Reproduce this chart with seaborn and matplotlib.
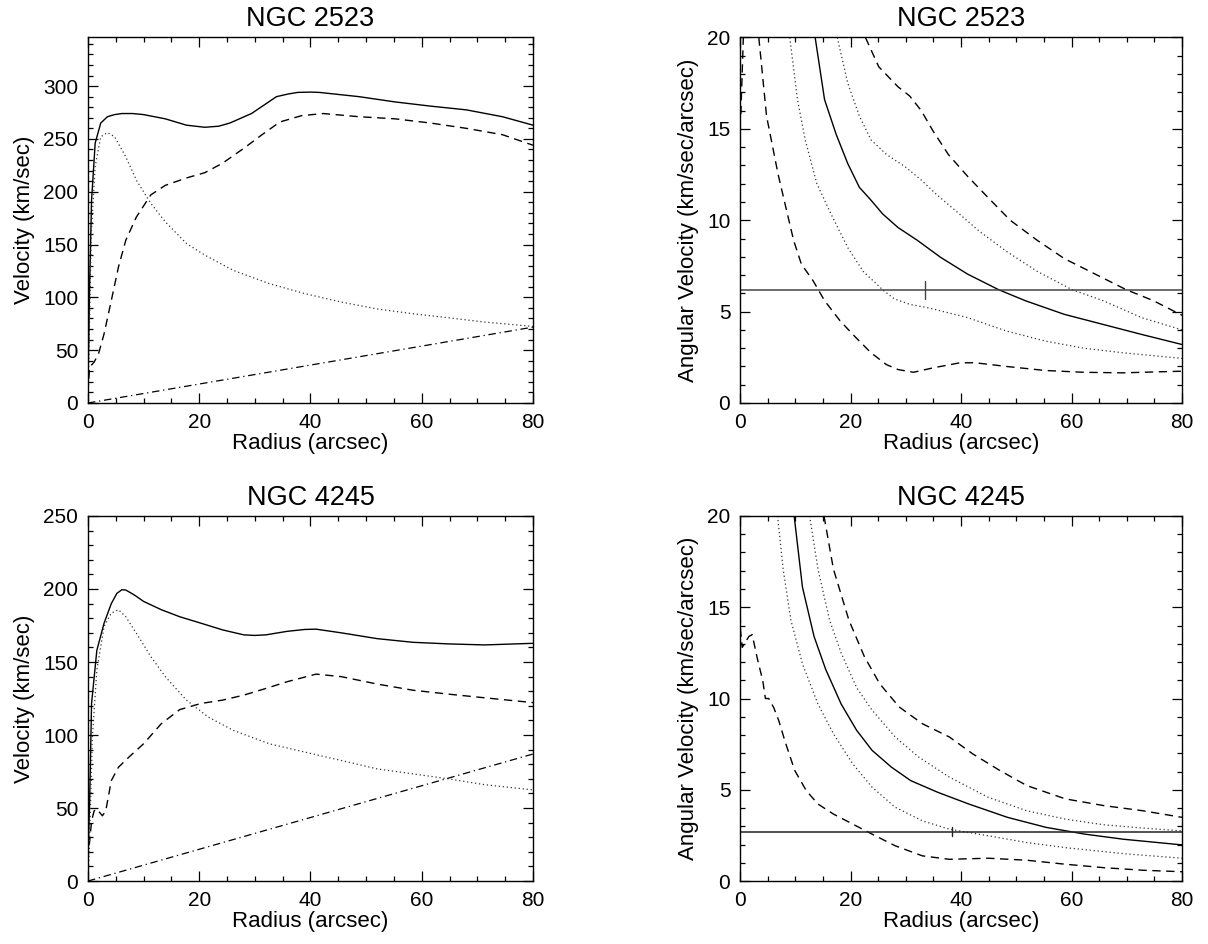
import numpy as np
import pandas as pd
import matplotlib
matplotlib.use('Agg')
import matplotlib.pyplot as plt
from matplotlib.ticker import MultipleLocator
import seaborn as sns

# NGC 2523 rotation curve components (left top)
r_2523_tot = [0, 0.3, 0.65, 1.3, 2.3, 3.5, 4.8, 6.1, 8, 10, 13.9, 17.7, 21, 23.5, 25.5, 29.4, 33.9, 36, 37.7, 40, 41.6, 48.7, 55.2, 61.6, 68, 74.5, 80]
v_2523_tot = [15, 110, 192, 246, 265, 271, 273, 274, 274, 273, 269, 263, 261, 262, 265, 274, 290, 292.5, 294, 294.3, 294, 290, 285, 281, 277.5, 271, 263]
r_2523_disk = [0, 0.3, 1.1, 1.9, 2.9, 4.2, 5.5, 6.8, 8.7, 11.3, 13.9, 17.7, 21, 24.2, 28, 31.3, 34.5, 38.4, 42.3, 48.7, 55.2, 61.6, 68, 74.5, 80]
v_2523_disk = [10, 34, 38.6, 46.5, 65.5, 97, 129, 154, 176, 197, 206, 213, 218, 227, 241, 254, 266, 272, 274, 271, 269, 265, 260, 254, 244]
r_2523_bulge = [0, 0.6, 1.3, 2.3, 3.5, 4.8, 6.8, 8.7, 11.3, 13.9, 17.7, 21, 26.1, 32.6, 39, 45.5, 52, 58.4, 64.8, 71.3, 80]
v_2523_bulge = [0, 160, 224, 252, 256, 252, 233, 211, 189, 171.5, 151, 140, 125.6, 113, 103.5, 95.6, 89, 84.5, 80.7, 76.6, 72.5]
r_2523_halo = [0, 80]
v_2523_halo = [0, 71.8]

# NGC 4245 rotation curve components (left bottom)
r_4245_tot = [0, 0.3, 0.65, 1.6, 2.9, 4.2, 5.2, 6.1, 6.8, 7.4, 8.5, 10, 13.2, 16.5, 20.3, 24.2, 28, 30, 32, 35.8, 39, 41, 45.5, 52, 58.4, 64.8, 71.3, 80]
v_4245_tot = [15, 53, 121.6, 158, 176.6, 190, 197, 199.5, 199.3, 198, 195.5, 191.5, 185.8, 181, 176.6, 172, 168.6, 168.2, 168.6, 171, 172.3, 172.5, 170, 166, 163.5, 162.4, 161.7, 162.8]
r_4245_disk = [0, 0.2, 0.65, 1.1, 1.6, 2.6, 3.2, 4.2, 5.5, 7.4, 10, 13.2, 16.5, 20.3, 24.2, 28, 32, 35.8, 41, 45.5, 52, 58.4, 64.8, 71.3, 80]
v_4245_disk = [15, 23, 41, 48, 49.3, 44.7, 48, 68.8, 78, 85, 94, 107.8, 117.4, 121.6, 123.9, 127.3, 131.9, 136.5, 141.7, 140, 134.9, 130.7, 128, 125.5, 122.2]
r_4245_bulge = [0, 0.3, 0.8, 1.6, 2.9, 4.2, 5.5, 6.8, 8.7, 11.3, 13.9, 17.7, 21.6, 26.1, 32.6, 39, 45.5, 52, 58.4, 64.8, 71.3, 80]
v_4245_bulge = [0, 30, 98.6, 144.5, 174.3, 183.5, 185.8, 181, 169.7, 153.7, 140, 123.9, 112.4, 103.2, 94, 88.3, 82.6, 76.8, 73.4, 70, 66, 62.4]
r_4245_halo = [0, 80]
v_4245_halo = [0, 87]

# NGC 2523 angular velocity curves (right top)
r_2523_om = [13.6, 15.3, 17.4, 19.5, 21.6, 23.7, 25.8, 28.6, 32.1, 36.3, 41.2, 46.8, 51.7, 58.7, 65.7, 72.7, 80]
om_2523 = [20, 16.6, 14.7, 13.1, 11.8, 11.1, 10.35, 9.6, 8.9, 7.97, 7.05, 6.2, 5.59, 4.85, 4.3, 3.75, 3.2]
r_2523_lo2_core = [0.15, 0.6]
om_2523_lo2_core = [15.8, 20]
r_2523_lo2 = [3.4, 4.8, 6.9, 8.3, 9.7, 11.1, 13.2, 15.3, 18.1, 20.9, 23.7, 26.5, 28.6, 31.4, 34.9, 39.8, 42.6, 48.2, 55.2, 62.2, 69.2, 80]
om_2523_lo2 = [20, 15.7, 12.5, 10.7, 8.9, 7.6, 6.7, 5.6, 4.5, 3.6, 2.75, 2.1, 1.83, 1.68, 1.92, 2.2, 2.2, 2.0, 1.78, 1.68, 1.65, 1.74]
r_2523_lo4 = [9, 10.4, 11.8, 13.9, 16.7, 19.5, 22.3, 25.8, 27.9, 30.7, 34.2, 41.2, 48.2, 55.2, 62.2, 69.2, 80]
om_2523_lo4 = [20, 16.6, 14.4, 12.0, 10.2, 8.5, 7.2, 6.2, 5.7, 5.4, 5.2, 4.67, 3.94, 3.39, 3.0, 2.75, 2.44]
r_2523_hi4 = [17.6, 19.5, 21.6, 23.7, 26.5, 30, 32.8, 35.6, 39.1, 43.3, 48.2, 53.8, 60.1, 65.7, 72.7, 80]
om_2523_hi4 = [20, 17.5, 15.7, 14.4, 13.6, 12.9, 12.2, 11.4, 10.5, 9.4, 8.3, 7.2, 6.2, 5.6, 4.67, 4.0]
r_2523_hi2 = [22.7, 25.1, 28.6, 30.7, 32.8, 34.9, 37.7, 41.2, 44.7, 48.9, 53.8, 58.7, 64.3, 69.9, 74.8, 80]
om_2523_hi2 = [20, 18.4, 17.3, 16.8, 16.0, 14.9, 13.6, 12.4, 11.3, 10.0, 8.9, 7.9, 7.05, 6.2, 5.6, 4.8]
omp_2523 = 6.2
rmark_2523 = 33.5

# NGC 4245 angular velocity curves (right bottom)
r_4245_om = [9.8, 11.3, 13.4, 15.5, 18.3, 21.1, 23.9, 27.4, 30.9, 35.8, 41.4, 48.4, 55.4, 62.4, 69.4, 80]
om_4245 = [20, 16.1, 13.4, 11.6, 9.7, 8.26, 7.16, 6.24, 5.5, 4.86, 4.22, 3.49, 2.94, 2.57, 2.29, 1.98]
r_4245_lo2 = [0.05, 0.1, 0.4, 1.6, 2.2, 3.2, 4.1, 4.6, 5.2, 6.1, 7.0, 8.2, 9.9, 12, 14.1, 16.9, 20.4, 23.9, 28.1, 33, 37.9, 44.9, 51.9, 58.9, 65.9, 73, 80]
om_4245_lo2 = [14.6, 13.7, 12.8, 13.4, 13.5, 12.1, 11.0, 10.0, 10.0, 9.5, 8.8, 7.6, 6.06, 4.95, 4.22, 3.67, 3.12, 2.57, 1.93, 1.38, 1.19, 1.25, 1.14, 0.92, 0.73, 0.59, 0.51]
r_4245_lo4 = [6.8, 7.8, 9.2, 11.3, 14.1, 16.9, 20.4, 23.9, 28.1, 33, 37.9, 44.9, 51.9, 58.9, 69.4, 80]
om_4245_lo4 = [20, 17.1, 14.3, 11.9, 9.7, 8.07, 6.42, 5.14, 4.04, 3.3, 2.84, 2.48, 2.11, 1.83, 1.5, 1.25]
r_4245_hi4 = [12.6, 14.1, 16.2, 18.3, 21.1, 23.9, 28.1, 32.3, 37.9, 44.9, 51.9, 58.9, 65.9, 73, 80]
om_4245_hi4 = [20, 17.1, 14.3, 12.5, 10.6, 9.36, 7.89, 6.8, 5.69, 4.59, 3.85, 3.39, 3.08, 2.9, 2.75]
r_4245_hi2 = [15.2, 16.9, 19.7, 22.5, 25.3, 28.8, 33, 37.9, 42.1, 47, 51.9, 58.9, 65.9, 72.9, 80]
om_4245_hi2 = [20, 17.1, 14.3, 12.3, 10.8, 9.54, 8.62, 7.89, 6.97, 6.06, 5.23, 4.5, 4.13, 3.85, 3.49]
omp_4245 = 2.7
rmark_4245 = 38.3

SOLID = '-'
DASHED = (0, (6, 4))
DOTTED = (0, (1, 2.2))
DASHDOT = (0, (6, 3, 1, 3))

sns.set_style('ticks')
plt.rcParams['font.family'] = ['Liberation Sans', 'DejaVu Sans']
plt.rcParams['axes.linewidth'] = 1.0
plt.rcParams['text.color'] = 'black'
plt.rcParams['axes.labelcolor'] = 'black'
plt.rcParams['xtick.color'] = 'black'
plt.rcParams['ytick.color'] = 'black'
plt.rcParams['axes.edgecolor'] = 'black'


def draw(ax, r, v, ls, lw=1.0, color='black'):
    sns.lineplot(x=r, y=v, ax=ax, color=color, linewidth=lw, linestyle=ls,
                 sort=False, estimator=None, legend=False)


def style_axes(ax, title, ylabel, ymax, ymajor, yminor):
    ax.set_xlim(0, 80)
    ax.set_ylim(0, ymax)
    ax.xaxis.set_major_locator(MultipleLocator(20))
    ax.xaxis.set_minor_locator(MultipleLocator(5))
    ax.yaxis.set_major_locator(MultipleLocator(ymajor))
    ax.yaxis.set_minor_locator(MultipleLocator(yminor))
    ax.tick_params(which='both', direction='in', top=True, right=True,
                   labelsize=15, width=0.9, color='black', labelcolor='black')
    ax.tick_params(which='major', length=7, pad=7)
    ax.tick_params(which='minor', length=3.5)
    for sp in ax.spines.values():
        sp.set_visible(True)
        sp.set_color('black')
    ax.set_title(title, fontsize=19.5, pad=8, color='black')
    ax.set_xlabel('Radius (arcsec)', fontsize=16, labelpad=1)
    ax.set_ylabel(ylabel, fontsize=16, labelpad=6)


fig = plt.figure(figsize=(12.08, 9.44), dpi=100)
ax_tl = fig.add_axes([0.0728, 0.5731, 0.3684, 0.3872])
ax_tr = fig.add_axes([0.6126, 0.5731, 0.3659, 0.3872])
ax_bl = fig.add_axes([0.0728, 0.0667, 0.3684, 0.3867])
ax_br = fig.add_axes([0.6126, 0.0667, 0.3659, 0.3867])

# rotation curves
draw(ax_tl, r_2523_tot, v_2523_tot, SOLID)
draw(ax_tl, r_2523_disk, v_2523_disk, DASHED)
draw(ax_tl, r_2523_bulge, v_2523_bulge, DOTTED, lw=0.9, color='#333333')
draw(ax_tl, r_2523_halo, v_2523_halo, DASHDOT, lw=0.9)
style_axes(ax_tl, 'NGC 2523', 'Velocity (km/sec)', 346, 50, 10)

draw(ax_bl, r_4245_tot, v_4245_tot, SOLID)
draw(ax_bl, r_4245_disk, v_4245_disk, DASHED)
draw(ax_bl, r_4245_bulge, v_4245_bulge, DOTTED, lw=0.9, color='#333333')
draw(ax_bl, r_4245_halo, v_4245_halo, DASHDOT, lw=0.9)
style_axes(ax_bl, 'NGC 4245', 'Velocity (km/sec)', 250, 50, 10)

# angular velocity curves
draw(ax_tr, r_2523_om, om_2523, SOLID)
draw(ax_tr, r_2523_lo2_core, om_2523_lo2_core, DASHED)
draw(ax_tr, r_2523_lo2, om_2523_lo2, DASHED)
draw(ax_tr, r_2523_lo4, om_2523_lo4, DOTTED, lw=0.9, color='#333333')
draw(ax_tr, r_2523_hi4, om_2523_hi4, DOTTED, lw=0.9, color='#333333')
draw(ax_tr, r_2523_hi2, om_2523_hi2, DASHED)
ax_tr.axhline(omp_2523, color='#444444', lw=1.1)
ax_tr.plot([rmark_2523, rmark_2523], [omp_2523 - 0.5, omp_2523 + 0.5], color='#444444', lw=1.0)
style_axes(ax_tr, 'NGC 2523', 'Angular Velocity (km/sec/arcsec)', 20, 5, 1)

draw(ax_br, r_4245_om, om_4245, SOLID)
draw(ax_br, r_4245_lo2, om_4245_lo2, DASHED)
draw(ax_br, r_4245_lo4, om_4245_lo4, DOTTED, lw=0.9, color='#333333')
draw(ax_br, r_4245_hi4, om_4245_hi4, DOTTED, lw=0.9, color='#333333')
draw(ax_br, r_4245_hi2, om_4245_hi2, DASHED)
ax_br.axhline(omp_4245, color='#222222', lw=1.1)
ax_br.plot([rmark_4245, rmark_4245], [omp_4245 - 0.25, omp_4245 + 0.25], color='#222222', lw=1.0)
style_axes(ax_br, 'NGC 4245', 'Angular Velocity (km/sec/arcsec)', 20, 5, 1)

fig.savefig('out.png', dpi=100, facecolor='white')
